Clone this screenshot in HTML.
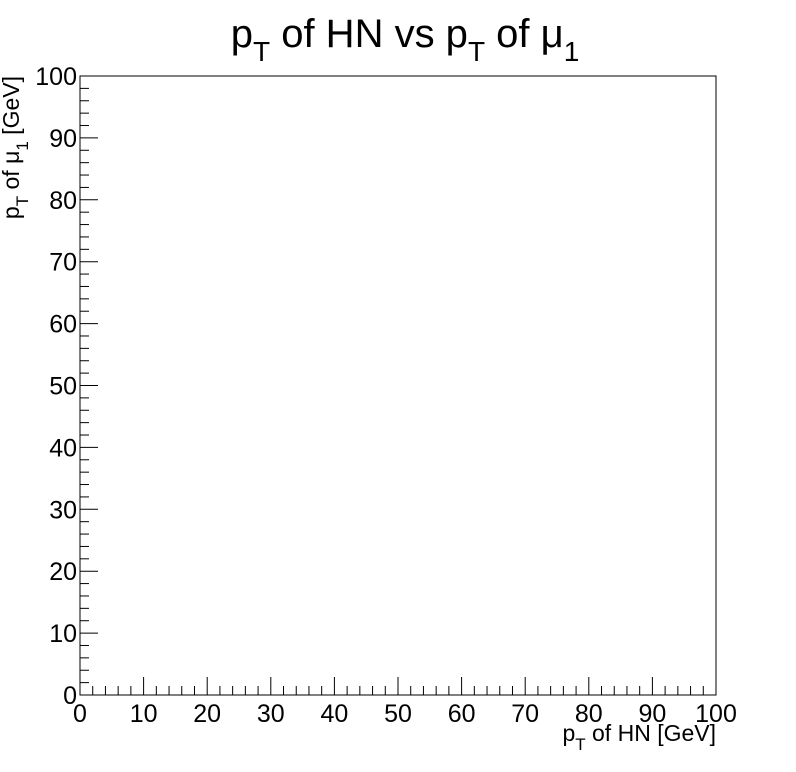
<!DOCTYPE html>
<html><head><meta charset="utf-8">
<style>
html,body{margin:0;padding:0;background:#fff;}
svg{display:block;font-family:"Liberation Sans",sans-serif;}
</style></head>
<body>
<svg id="chart" width="796" height="772" viewBox="0 0 796 772" xmlns="http://www.w3.org/2000/svg">
<rect x="0" y="0" width="796" height="772" fill="#fff"/>
<text x="405" y="47" font-size="40" text-anchor="middle">p<tspan font-size="28" dy="14">T</tspan><tspan dy="-14"> of HN vs p</tspan><tspan font-size="28" dy="14">T</tspan><tspan dy="-14"> of μ</tspan><tspan font-size="28" dy="14">1</tspan></text>
<rect x="80" y="76" width="636" height="619" fill="none" stroke="#000" stroke-width="1"/>
<g id="xaxis"></g>
<g id="yaxis"></g>
<text x="716" y="741" font-size="23" text-anchor="end">p<tspan font-size="17" dy="9">T</tspan><tspan dy="-9"> of HN [GeV]</tspan></text>
<text transform="translate(19,76) rotate(-90)" font-size="23" text-anchor="end">p<tspan font-size="17" dy="9">T</tspan><tspan dy="-9"> of μ</tspan><tspan font-size="17" dy="9">1</tspan><tspan dy="-9"> [GeV]</tspan></text>
</svg>
<script>
const xTicks = [0,10,20,30,40,50,60,70,80,90,100];
const yTicks = [0,10,20,30,40,50,60,70,80,90,100];
const xMin = 0, xMax = 100, yMin = 0, yMax = 100;
const L=80,R=716,T=76,B=695;
function sx(v){return L+(v-xMin)/(xMax-xMin)*(R-L);}
function sy(v){return B-(v-yMin)/(yMax-yMin)*(B-T);}
const NS="http://www.w3.org/2000/svg";
const xg=document.getElementById('xaxis'), yg=document.getElementById('yaxis');
function line(g,x1,y1,x2,y2){const l=document.createElementNS(NS,'line');
l.setAttribute('x1',x1);l.setAttribute('y1',y1);l.setAttribute('x2',x2);l.setAttribute('y2',y2);
l.setAttribute('stroke','#000');l.setAttribute('stroke-width','1');


g.appendChild(l);}
function txt(g,x,y,s,anchor){const t=document.createElementNS(NS,'text');
t.setAttribute('x',x);t.setAttribute('y',y);t.setAttribute('font-size','25');t.setAttribute('text-anchor',anchor);t.textContent=s;


g.appendChild(t);}
for(let i=0;i<xTicks.length;i++){
  const x=sx(xTicks[i]); line(xg,x,B,x,B-18); txt(xg,x,722,String(xTicks[i]),'middle');
  if(i<xTicks.length-1){const step=(xTicks[i+1]-xTicks[i])/5;for(let k=1;k<5;k++){const xm=sx(xTicks[i]+k*step);line(xg,xm,B,xm,B-9);}}
}
for(let i=0;i<yTicks.length;i++){
  const y=sy(yTicks[i]); line(yg,L,y,L+18,y); txt(yg,L-3,y+9,String(yTicks[i]),'end');
  if(i<yTicks.length-1){const step=(yTicks[i+1]-yTicks[i])/5;for(let k=1;k<5;k++){const ym=sy(yTicks[i]+k*step);line(yg,L,ym,L+9,ym);}}
}
</script>
</body></html>
